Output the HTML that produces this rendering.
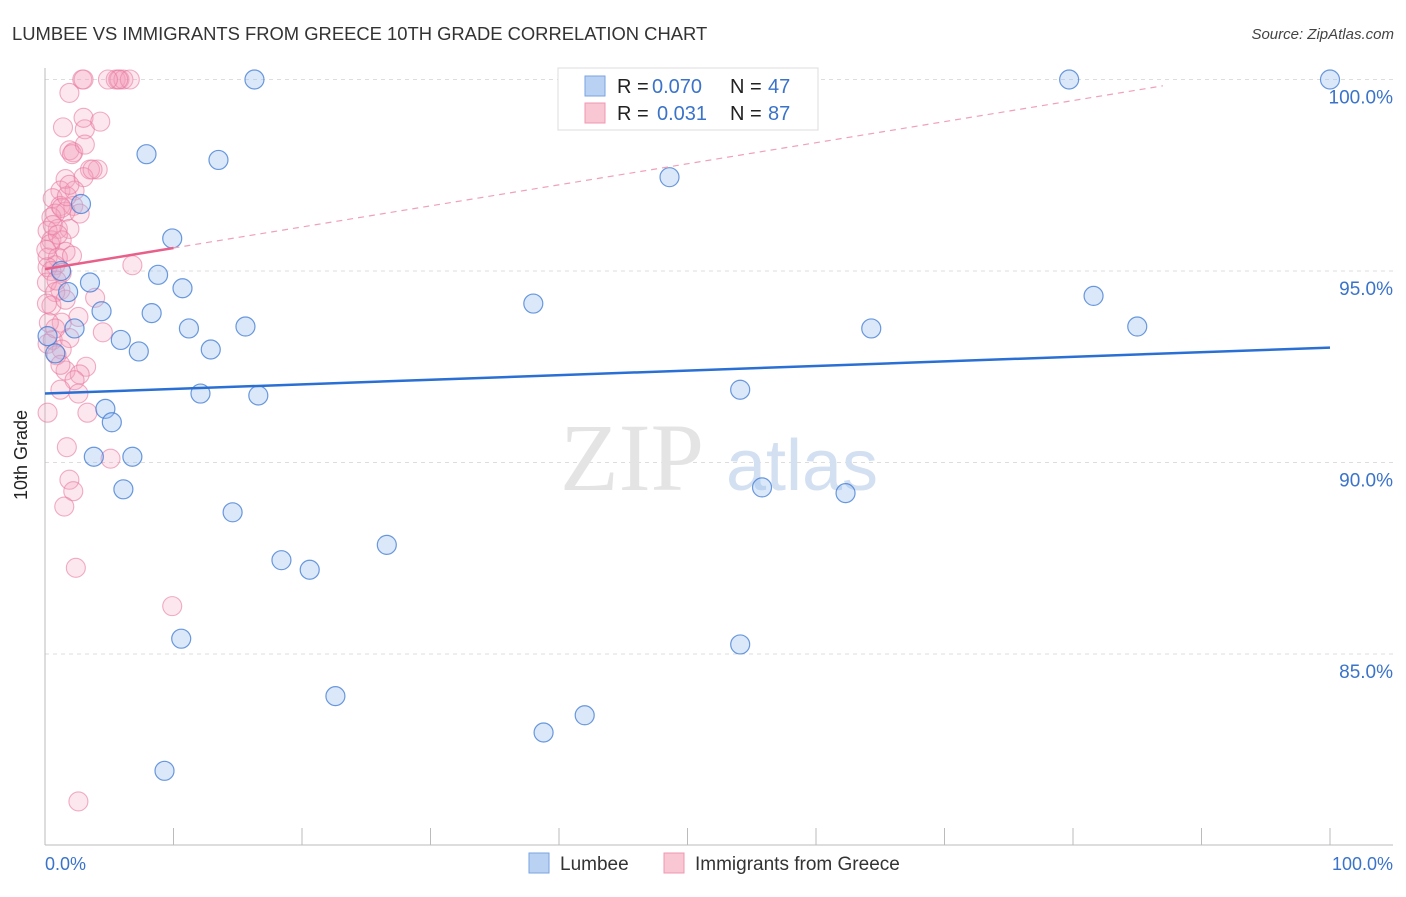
<!DOCTYPE html>
<html><head><meta charset="utf-8"><style>
body{margin:0;background:#fff;font-family:"Liberation Sans",sans-serif;}
</style></head><body>
<svg width="1406" height="892" xmlns="http://www.w3.org/2000/svg" font-family="Liberation Sans, sans-serif">
<text x="12" y="40" font-size="18.4" fill="#333">LUMBEE VS IMMIGRANTS FROM GREECE 10TH GRADE CORRELATION CHART</text>
<text x="1394" y="39" font-size="15" fill="#444" text-anchor="end" font-style="italic">Source: ZipAtlas.com</text>
<g id="grid"></g>
<text x="632" y="490" font-size="96" fill="#e4e4e4" text-anchor="middle" font-family="Liberation Serif, serif">ZIP</text>
<text x="802" y="490" font-size="72" fill="#d3e0f2" text-anchor="middle">atlas</text>
<g id="pts"></g>
<g id="lines"></g>
<text x="27" y="455" font-size="18" fill="#222" text-anchor="middle" transform="rotate(-90 27 455)">10th Grade</text>
<text x="45" y="870" font-size="18" fill="#3a73c9">0.0%</text>
<text x="1393" y="870" font-size="18" fill="#3a73c9" text-anchor="end">100.0%</text>
<g font-size="20">
<rect x="558" y="68" width="260" height="62" fill="#fff" stroke="#ddd"/>
<rect x="585" y="76" width="20" height="20" fill="#b9d2f3" stroke="#7aa3e0"/>
<rect x="585" y="103" width="20" height="20" fill="#f9c6d4" stroke="#ef97b0"/>
<text x="617" y="93" fill="#222">R =</text><text x="652" y="93" fill="#3a73c9">0.070</text>
<text x="730" y="93" fill="#222">N =</text><text x="768" y="93" fill="#3a73c9">47</text>
<text x="617" y="120" fill="#222">R =</text><text x="657" y="120" fill="#3a73c9">0.031</text>
<text x="730" y="120" fill="#222">N =</text><text x="768" y="120" fill="#3a73c9">87</text>
</g>
<g>
<rect x="529" y="853" width="20" height="20" fill="#b9d2f3" stroke="#7aa3e0"/>
<text x="560" y="870" font-size="19" fill="#333">Lumbee</text>
<rect x="664" y="853" width="20" height="20" fill="#f9c6d4" stroke="#ef97b0"/>
<text x="695" y="870" font-size="19" fill="#333">Immigrants from Greece</text>
</g>
</svg>
<script>
const yTicks=[100,95,90,85];
const yTickLabels=["100.0%","95.0%","90.0%","85.0%"];
const blueX=[16.3,79.7,100,7.9,13.5,48.6,2.8,9.9,8.8,1.25,3.5,1.8,10.7,4.4,8.3,38.0,81.6,11.2,15.6,64.3,85.0,2.3,5.9,7.3,12.9,0.2,0.8,54.1,12.1,16.6,4.7,5.2,3.8,6.8,6.1,55.8,62.3,14.6,26.6,18.4,20.6,10.6,54.1,22.6,42.0,38.8,9.3];
const blueY=[100,100,100,98.05,97.9,97.45,96.75,95.85,94.9,95.0,94.7,94.45,94.55,93.95,93.9,94.15,94.35,93.5,93.55,93.5,93.55,93.5,93.2,92.9,92.95,93.3,92.85,91.9,91.8,91.75,91.4,91.05,90.15,90.15,89.3,89.35,89.2,88.7,87.85,87.45,87.2,85.4,85.25,83.9,83.4,82.95,81.95];
const pinkX=[2.9,3.0,5.5,5.8,6.1,6.6,5.7,1.9,3.1,1.4,3.0,4.3,1.9,2.2,2.1,4.1,3.5,1.6,3.0,1.2,2.3,0.6,1.2,2.2,1.6,0.8,0.5,1.3,1.0,1.9,0.2,0.5,1.3,1.6,0.4,0.2,1.0,2.1,0.8,0.2,0.5,1.3,0.15,1.2,3.9,0.8,2.6,0.5,0.15,4.5,1.3,0.6,1.9,0.2,1.3,0.9,3.2,1.6,2.7,2.3,2.6,1.2,3.3,0.2,1.7,5.1,1.9,2.2,1.5,2.4,9.9,2.6,6.8,3.7,4.9,0.6,1.0,1.6,0.3,0.8,1.7,2.7,0.1,1.9,0.9,1.2,3.1];
const pinkY=[100,100,100,100,100,100,100,99.65,98.7,98.75,99.0,98.9,98.15,98.1,98.05,97.65,97.65,97.4,97.45,97.1,97.1,96.9,96.7,96.7,96.55,96.5,96.4,96.65,96.1,96.1,96.05,95.8,95.8,95.5,95.7,95.35,95.35,95.4,95.15,95.1,95.0,94.95,94.7,94.5,94.3,94.45,93.8,94.1,94.15,93.4,93.65,93.2,93.25,93.1,92.95,92.8,92.5,92.4,92.3,92.15,91.8,91.9,91.3,91.3,90.4,90.1,89.55,89.25,88.85,87.25,86.25,81.15,95.15,97.65,100,96.2,95.95,94.25,93.65,93.5,96.95,96.5,95.55,97.25,94.75,92.55,98.3];
const blueTrend=[91.8,93.0];
const pinkTrend=[95.05,95.6];
const sx=v=>45+v*12.85, sy=v=>79.5+(100-v)*38.3;
const NS="http://www.w3.org/2000/svg";
function mk(t,a,p){const e=document.createElementNS(NS,t);for(const k in a)e.setAttribute(k,a[k]);p.appendChild(e);return e;}
const g=document.getElementById('grid');
yTicks.forEach((t,i)=>{
 const l=mk('line',{x1:45,x2:1393,y1:sy(t),y2:sy(t),stroke:'#ddd','stroke-dasharray':'4,4'},g);
 
 
 const tx=mk('text',{x:1393,y:sy(t)+24,'font-size':19,fill:'#3a73c9','text-anchor':'end'},g);
 tx.textContent=yTickLabels[i];
 
 
});
const ax=mk('line',{x1:45,x2:45,y1:68,y2:845,stroke:'#bbb'},g);


const bx=mk('line',{x1:45,x2:1393,y1:845,y2:845,stroke:'#bbb'},g);


for(let i=1;i<=10;i++){const tk=mk('line',{x1:sx(i*10),x2:sx(i*10),y1:828,y2:845,stroke:'#bbb'},g);
 
 }
const p=document.getElementById('pts');
pinkX.forEach((x,i)=>{const c=mk('circle',{cx:sx(x),cy:sy(pinkY[i]),r:9.5,fill:'rgba(244,160,188,0.25)',stroke:'rgba(232,120,160,0.6)','stroke-width':1.1},p);
 
 });
blueX.forEach((x,i)=>{const c=mk('circle',{cx:sx(x),cy:sy(blueY[i]),r:9.5,fill:'rgba(150,190,240,0.35)',stroke:'rgba(60,120,210,0.75)','stroke-width':1.2},p);
 
 });
const L=document.getElementById('lines');
const bl=mk('line',{x1:sx(0),y1:sy(blueTrend[0]),x2:sx(100),y2:sy(blueTrend[1]),stroke:'#2a6fd4','stroke-width':2.5},L);


const slope=(pinkTrend[1]-pinkTrend[0])/10;
const pd=mk('line',{x1:sx(10),y1:sy(pinkTrend[1]),x2:sx(87),y2:sy(pinkTrend[0]+slope*87),stroke:'#f0a0b8','stroke-width':1.2,'stroke-dasharray':'6,5'},L);


const pl=mk('line',{x1:sx(0),y1:sy(pinkTrend[0]),x2:sx(10),y2:sy(pinkTrend[1]),stroke:'#e8608a','stroke-width':2.5},L);


</script>
</body></html>
